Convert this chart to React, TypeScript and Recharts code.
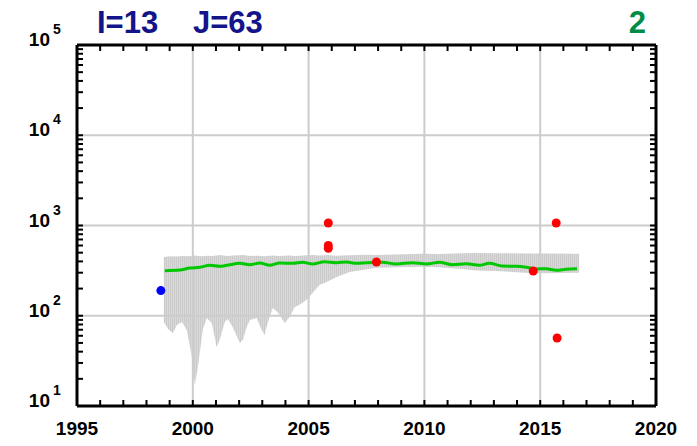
import React from "react";
import {
  ComposedChart,
  XAxis,
  YAxis,
  Area,
  Line,
  Scatter,
  ReferenceLine,
} from "recharts";

// gray min/max band
const bandYears = [
  1998.75, 1998.92, 1999.14, 1999.31, 1999.53, 1999.74, 1999.96, 2000.09, 2000.22, 2000.43,
  2000.6, 2000.82, 2001.03, 2001.16, 2001.38, 2001.51, 2001.72, 2002.03, 2002.16, 2002.33,
  2002.46, 2002.76, 2002.97, 2003.1, 2003.23, 2003.45, 2003.66, 2003.97, 2004.18, 2004.4,
  2004.61, 2004.91, 2005.17, 2005.47, 2005.78, 2006.21, 2006.77, 2007.33, 2007.93, 2008.79,
  2009.91, 2010.6, 2011.64, 2012.24, 2013.1, 2014.53, 2015.26, 2016.68,
];
const bandLow = [
  85, 72, 64, 79, 85, 69.5, 35, 17, 27, 69.5,
  94.5, 83, 45, 54, 85, 92, 75, 50, 54, 75,
  90, 94.5, 69.5, 61, 83, 122, 110, 83, 97, 125,
  132, 150, 179, 219, 236, 269, 305, 321, 340, 345,
  350, 345, 330, 318, 313, 298, 295, 300,
];
const bandHigh = [
  448, 452, 455, 452, 458, 455, 460, 465, 460, 455,
  462, 458, 465, 470, 462, 458, 465, 468, 472, 465,
  460, 462, 458, 455, 460, 465, 458, 462, 466, 460,
  463, 468, 472, 466, 470, 462, 468, 475, 470, 478,
  485, 482, 492, 495, 492, 490, 488, 485,
];

// green mean line
const meanYears = [
  1998.79, 1999.44, 1999.87, 2000.3, 2000.73, 2001.16, 2001.47, 2002.03, 2002.46, 2002.89,
  2003.32, 2003.75, 2004.31, 2004.74, 2005.17, 2005.69, 2006.21, 2006.64, 2007.07, 2007.5,
  2008.19, 2008.79, 2009.48, 2010.09, 2010.65, 2011.21, 2011.81, 2012.37, 2012.8, 2013.36,
  2013.97, 2014.4, 2014.83, 2015.26, 2015.69, 2016.12, 2016.59,
];
const meanValues = [
  316, 321, 338, 344, 362, 353, 362, 381, 368, 384,
  362, 384, 381, 391, 375, 397, 387, 394, 381, 387,
  391, 375, 387, 375, 391, 368, 377, 362, 381, 356,
  353, 344, 330, 332, 319, 327, 332,
];

// observations
const blueYears = [1998.62];
const blueValues = [190];
const redYears = [2005.85, 2005.85, 2005.85, 2007.93, 2014.7, 2015.69, 2015.73];
const redValues = [1066, 600, 560, 394, 313, 1066, 56.7];

// axes
const xMin = 1995;
const xMax = 2020;
const yMin = 10;
const yMax = 100000;
const xTicks = [
  1995, 1996, 1997, 1998, 1999, 2000, 2001, 2002, 2003, 2004, 2005, 2006, 2007,
  2008, 2009, 2010, 2011, 2012, 2013, 2014, 2015, 2016, 2017, 2018, 2019, 2020,
];
const xLabels = [1995, 2000, 2005, 2010, 2015, 2020];
const xGrid = [2000, 2005, 2010, 2015];
const yTicks = [
  10, 20, 30, 40, 50, 60, 70, 80, 90,
  100, 200, 300, 400, 500, 600, 700, 800, 900,
  1000, 2000, 3000, 4000, 5000, 6000, 7000, 8000, 9000,
  10000, 20000, 30000, 40000, 50000, 60000, 70000, 80000, 90000, 100000,
];
const yLabels = [10, 100, 1000, 10000, 100000];
const yGrid = [100, 1000, 10000];

const bandData = bandYears.map((year, i) => ({ year, range: [bandLow[i], bandHigh[i]] }));
const meanData = meanYears.map((year, i) => ({ year, value: meanValues[i] }));
const blueData = blueYears.map((year, i) => ({ year, value: blueValues[i] }));
const redData = redYears.map((year, i) => ({ year, value: redValues[i] }));

const FONT = "'Liberation Sans', Arial, Helvetica, sans-serif";
const axisLine = { stroke: "#000", strokeWidth: 3 };
// inward tick length, in data units (about 6px)
const TICK_YEARS = 0.26;
const TICK_FACTOR = 1.166;

const BottomLabel = (props: any) => {
  const { x, y, payload } = props;
  const v = payload.value;
  if (!xLabels.includes(v)) return <g />;
  return (
    <text x={x} y={y + 29} textAnchor="middle" fontFamily={FONT} fontWeight="bold"
      fontSize={19} fill="#000">
      {v}
    </text>
  );
};

const LeftLabel = (props: any) => {
  const { x, y, payload } = props;
  const v = payload.value;
  if (!yLabels.includes(v)) return <g />;
  return (
    <g>
      <text x={x - 27} y={y + 1} textAnchor="end" fontFamily={FONT} fontWeight="bold"
        fontSize={19} fill="#000">
        10
      </text>
      <text x={x - 24} y={y - 11} fontFamily={FONT} fontWeight="bold" fontSize={14} fill="#000">
        {Math.round(Math.log10(v))}
      </text>
    </g>
  );
};

const dot = (color: string) => (p: any) => (
  <circle cx={p.cx} cy={p.cy} r={4.5} fill={color} />
);

export default function App() {
  return (
    <div style={{ position: "absolute", left: 0, top: 0, width: 697, height: 446 }}>
      <ComposedChart width={697} height={446} margin={{ top: 45, right: 41, bottom: 0, left: 0 }}>
        <defs>
          <pattern id="bandHatch" width="2" height="4" patternUnits="userSpaceOnUse">
            <rect width="2" height="4" fill="#d9d9d9" />
            <rect width="1" height="4" fill="#cbcbcb" />
          </pattern>
        </defs>
        <XAxis
          xAxisId="b"
          dataKey="year"
          type="number"
          domain={[xMin, xMax]}
          ticks={xTicks}
          interval={0}
          allowDataOverflow
          height={40}
          tickSize={0}
          tickMargin={0}
          tickLine={false}
          tick={<BottomLabel />}
          axisLine={axisLine}
        />
        <YAxis
          yAxisId="l"
          type="number"
          scale="log"
          domain={[yMin, yMax]}
          ticks={yTicks}
          interval={0}
          allowDataOverflow
          width={77}
          tickSize={0}
          tickMargin={0}
          tickLine={false}
          tick={<LeftLabel />}
          axisLine={axisLine}
        />
        {xGrid.map((g) => (
          <ReferenceLine key={"x" + g} x={g} xAxisId="b" yAxisId="l" stroke="#cccccc" strokeWidth={2} />
        ))}
        {yGrid.map((g) => (
          <ReferenceLine key={"y" + g} y={g} xAxisId="b" yAxisId="l" stroke="#cccccc" strokeWidth={2} />
        ))}
        <Area
          data={bandData}
          xAxisId="b"
          yAxisId="l"
          dataKey="range"
          type="linear"
          stroke="none"
          fill="url(#bandHatch)"
          fillOpacity={1}
          isAnimationActive={false}
        />
        <Line
          data={meanData}
          xAxisId="b"
          yAxisId="l"
          dataKey="value"
          type="monotone"
          stroke="#00c800"
          strokeWidth={3}
          dot={false}
          isAnimationActive={false}
        />
        <Scatter
          data={blueData}
          xAxisId="b"
          yAxisId="l"
          dataKey="value"
          shape={dot("#0000ff")}
          isAnimationActive={false}
        />
        <Scatter
          data={redData}
          xAxisId="b"
          yAxisId="l"
          dataKey="value"
          shape={dot("#ff0000")}
          isAnimationActive={false}
        />
        {/* inward minor ticks on all four sides */}
        {xTicks.slice(1, -1).map((t) => (
          <ReferenceLine key={"tb" + t} xAxisId="b" yAxisId="l" stroke="#000" strokeWidth={2}
            segment={[{ x: t, y: yMin }, { x: t, y: yMin * TICK_FACTOR }]} />
        ))}
        {xTicks.slice(1, -1).map((t) => (
          <ReferenceLine key={"tt" + t} xAxisId="b" yAxisId="l" stroke="#000" strokeWidth={2}
            segment={[{ x: t, y: yMax }, { x: t, y: yMax / TICK_FACTOR }]} />
        ))}
        {yTicks.slice(1, -1).map((t) => (
          <ReferenceLine key={"tl" + t} xAxisId="b" yAxisId="l" stroke="#000" strokeWidth={2}
            segment={[{ x: xMin, y: t }, { x: xMin + TICK_YEARS, y: t }]} />
        ))}
        {yTicks.slice(1, -1).map((t) => (
          <ReferenceLine key={"tr" + t} xAxisId="b" yAxisId="l" stroke="#000" strokeWidth={2}
            segment={[{ x: xMax, y: t }, { x: xMax - TICK_YEARS, y: t }]} />
        ))}
        {/* top and right frame */}
        <ReferenceLine y={yMax} xAxisId="b" yAxisId="l" stroke="#000" strokeWidth={3} />
        <ReferenceLine x={xMax} xAxisId="b" yAxisId="l" stroke="#000" strokeWidth={3} />
      </ComposedChart>
      <svg width={697} height={446} style={{ position: "absolute", left: 0, top: 0, pointerEvents: "none" }}>
        <text x={97} y={33} fontFamily={FONT} fontWeight="bold" fontSize={31} fill="#13138a">I=13</text>
        <text x={193} y={33} fontFamily={FONT} fontWeight="bold" fontSize={31} fill="#13138a">J=63</text>
        <text x={646} y={33} textAnchor="end" fontFamily={FONT} fontWeight="bold" fontSize={31} fill="#008c46">2</text>
      </svg>
    </div>
  );
}
